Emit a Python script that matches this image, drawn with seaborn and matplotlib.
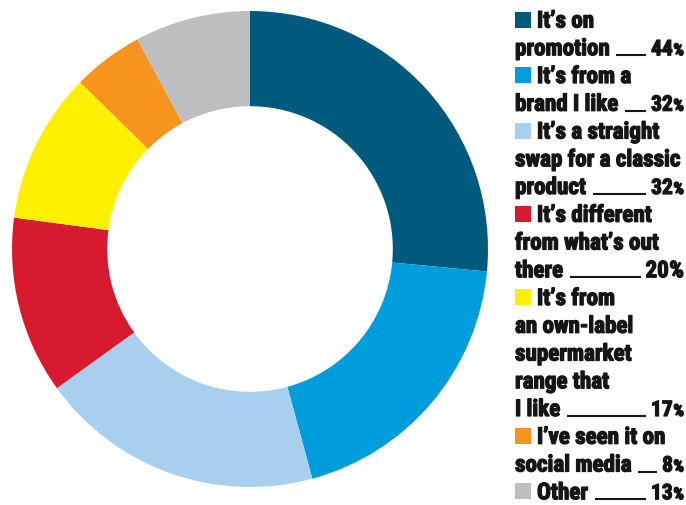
import matplotlib
matplotlib.use("Agg")
import matplotlib.pyplot as plt
import matplotlib.patheffects as pe
import seaborn as sns
from matplotlib.patches import Rectangle
from matplotlib.lines import Line2D
from matplotlib import font_manager

sns.set_theme(style="white")

categories = [
    "It’s on\npromotion",
    "It’s from a\nbrand I like",
    "It’s a straight\nswap for a classic\nproduct",
    "It’s different\nfrom what’s out\nthere",
    "It’s from\nan own-label\nsupermarket\nrange that\nI like",
    "I’ve seen it on\nsocial media",
    "Other",
]
values = [44, 32, 32, 20, 17, 8, 13]
colors = ["#005a7d", "#009ddc", "#a8cfee", "#d71a2f", "#fff000", "#f7941d", "#bcbec0"]

available = {f.name for f in font_manager.fontManager.ttflist}
family = next((f for f in ["Roboto Condensed", "Liberation Sans Narrow", "Roboto"]
               if f in available), "DejaVu Sans")
plt.rcParams["font.family"] = [family, "DejaVu Sans"]

W, H = 686, 506
fig = plt.figure(figsize=(W / 100, H / 100), dpi=100)
fig.patch.set_facecolor("white")

# donut
cx, cy, R = 250, 250, 238
ax = fig.add_axes([(cx - R) / W, (H - cy - R) / H, 2 * R / W, 2 * R / H])
ax.pie(values, colors=colors, startangle=90, counterclock=False, radius=1,
       wedgeprops=dict(width=0.40, linewidth=0))
ax.set_xlim(-1, 1)
ax.set_ylim(-1, 1)
ax.set_aspect("equal")
ax.axis("off")


def fx(x):
    return x / W


def fy(y):
    return 1 - y / H


ink = "#151515"
fs = 16.6
weight = "bold"
heavy = [pe.withStroke(linewidth=0.9, foreground=ink)]
x_sq, x_txt, x_right = 515, 537, 684
base0, step = 28.5, 27.75

fig.canvas.draw()
renderer = fig.canvas.get_renderer()

row = 0
for cat, val, col in zip(categories, values, colors):
    lines = cat.split("\n")
    for j, line in enumerate(lines):
        yb = base0 + step * row
        x0 = x_sq
        if j == 0:
            fig.add_artist(Rectangle((fx(x_sq), fy(yb)), 16 / W, 16 / H,
                                     transform=fig.transFigure, color=col, lw=0))
            x0 = x_txt
        t = fig.text(fx(x0), fy(yb), line, fontsize=fs, fontweight=weight,
                     color=ink, ha="left", va="baseline", path_effects=heavy)
        if j == len(lines) - 1:
            # the 20% figure is set at full size, the rest a little smaller
            nsize = fs if val == 20 else fs * 0.93
            psize = fs if val == 20 else fs * 0.72
            pct = fig.text(fx(x_right), fy(yb), "%", fontsize=psize,
                           fontweight=weight, color=ink, ha="right", va="baseline",
                           path_effects=heavy)
            pbb = pct.get_window_extent(renderer)
            num = fig.text(pbb.x0 / W - 0.5 / W, fy(yb), str(val), fontsize=nsize,
                           fontweight=weight, color=ink, ha="right", va="baseline",
                           path_effects=heavy)
            tbb = t.get_window_extent(renderer)
            nbb = num.get_window_extent(renderer)
            fig.add_artist(Line2D([(tbb.x1 + 7) / W, (nbb.x0 - 5) / W],
                                  [fy(yb), fy(yb)],
                                  transform=fig.transFigure, color=ink, lw=1.5,
                                  solid_capstyle="butt"))
        row += 1

fig.savefig("out.png", dpi=100, facecolor="white")
